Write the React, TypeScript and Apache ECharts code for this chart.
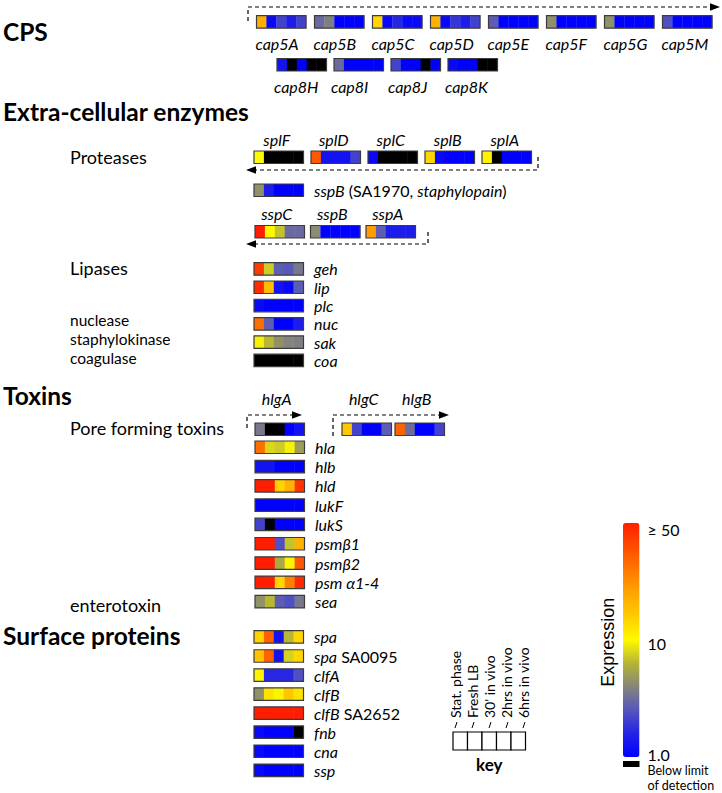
import React, { useEffect, useRef } from 'react';
import * as echarts from 'echarts';

const W = 722;
const H = 793;

// ---------------- data ----------------
const sectionTitles = ['CPS', 'Extra-cellular enzymes', 'Toxins', 'Surface proteins'];
const subTitles = ['Proteases', 'Lipases', 'nuclease', 'staphylokinase', 'coagulase', 'Pore forming toxins', 'enterotoxin'];

const cpsGenes = ['cap5A', 'cap5B', 'cap5C', 'cap5D', 'cap5E', 'cap5F', 'cap5G', 'cap5M'];
const cpsValues = [
  [25, 1.5, 4, 2.5, 4],
  [5.5, 6.3, 1, 1, 1],
  [17, 1.5, 3, 1.5, 1.5],
  [24, 1.5, 3.5, 2.5, 4],
  [5, 1, 1, 1, 1],
  [7, 1, 1, 1, 1],
  [7, 1, 1, 1, 1],
  [4.5, 1, 1, 1, 1],
];
const cap8Genes = ['cap8H', 'cap8I', 'cap8J', 'cap8K'];
const cap8Values = [
  [2, 0, 1, 0, 0],
  [5.5, 1, 1, 1, 1],
  [4, 1, 1, 0, 1],
  [1.5, 1, 1, 0, 0],
];
const splGenes = ['splF', 'splD', 'splC', 'splB', 'splA'];
const splValues = [
  [11, 0, 0, 0, 0],
  [40, 2, 2, 2, 4],
  [1.5, 0, 0, 0, 0],
  [17, 1.5, 1, 1, 1],
  [12, 0, 1, 1, 1],
];
const sspBSingleLabel = '{i|sspB}{r| (SA1970, }{i|staphylopain}{r|)}';
const sspBSingleValues = [7, 2.5, 1, 1, 1];
const sspGenes = ['sspC', 'sspB', 'sspA'];
const sspValues = [
  [50, 11, 8.8, 5.5, 5.5],
  [6.8, 1, 1, 1, 1],
  [28, 5, 2.5, 2.5, 2.5],
];
const enzymeGenes = ['geh', 'lip', 'plc', 'nuc', 'sak', 'coa'];
const enzymeValues = [
  [45, 9, 5, 4.8, 6],
  [48, 22, 2, 1.5, 5],
  [1.5, 1, 1, 1, 1],
  [36, 5, 1, 1, 2.5],
  [10, 8.5, 7, 6.5, 6.3],
  [0, 0, 0, 0, 0],
];
const hlgGenes = ['hlgA', 'hlgC', 'hlgB'];
const hlgValues = [
  [6, 0, 0, 1, 2],
  [20, 4, 1, 1, 5],
  [38, 5.6, 1, 1, 4],
];
const toxinGenes = ['hla', 'hlb', 'hld', 'lukF', 'lukS', 'psmβ1', 'psmβ2', 'psm α1-4', 'sea'];
const toxinValues = [
  [36, 9.3, 9, 10, 7.5],
  [2, 2, 1, 1, 1],
  [50, 50, 18, 24, 46],
  [1, 1, 1, 1, 1],
  [4, 0, 1, 1, 1],
  [50, 50, 4.5, 8.8, 24],
  [50, 50, 8, 12, 40],
  [50, 50, 17, 33, 48],
  [7, 8.5, 5, 4.5, 6],
];
const surfaceGenes = ['{i|spa}', '{i|spa}{r| SA0095}', '{i|clfA}', '{i|clfB}', '{i|clfB}{r| SA2652}', '{i|fnb}', '{i|cna}', '{i|ssp}'];
const surfaceValues = [
  [18, 38, 2, 8.5, 17],
  [21, 38, 2, 9.2, 17],
  [12, 3, 3, 3, 4.5],
  [7, 15, 10.5, 20, 15],
  [50, 50, 50, 50, 50],
  [1.5, 1, 1, 1, 0],
  [1.5, 1, 1, 1, 1],
  [1.5, 1, 1, 1, 1],
];
const keyLabels = ['Stat. phase', 'Fresh LB', "30' in vivo", '2hrs in vivo', '6hrs in vivo'];
const keyTitle = 'key';
const colorbarTicks = [50, 10, 1];
const colorbarTickLabels = ['≥ 50', '10', '1.0'];
const colorbarTitle = 'Expression';
const belowLimitLabel = ['Below limit', 'of detection'];

// ---------------- scale ----------------
const scaleColors = ['#0000ff', '#2323e6', '#5555be', '#85857a', '#b4b437', '#fffa00', '#ffcd00', '#ffa500', '#ff7800', '#ff4b00', '#ff1e00'];
const BELOW_COLOR = '#000000';
function toScale(v: number) {
  if (v <= 0) return 0; // below detection limit (drawn black)
  if (v <= 10) return (0.487 * (v - 1)) / 9;
  return 0.487 + (0.513 * Math.min(v - 10, 40)) / 40;
}

// ---------------- layout ----------------
const CELL_W = 9.9;
const BOX_H = 12.5;
const FONT = 'Lato';
const GENE_SIZE = 16;
const LABEL_X = 314;
const BAR = { x: 623, y: 523, w: 16.5, h: 234 };

type Strip = { x: number; y: number; values: number[] };

export default function App() {
  const ref = useRef<HTMLDivElement>(null);
  useEffect(() => {
    if (!ref.current) return;
    const chart = echarts.init(ref.current, undefined, { renderer: 'svg' });
    const strips: Strip[] = [];
    const g: any[] = [];

    const text = (x: number, y: number, t: string, o: any = {}) =>
      g.push({
        type: 'text',
        x,
        y,
        rotation: o.rotation || 0,
        style: {
          text: t,
          fontFamily: o.family || FONT,
          fontSize: o.size || GENE_SIZE,
          lineHeight: o.lh,
          fontStyle: o.italic ? 'italic' : 'normal',
          fontWeight: o.bold ? 'bold' : 'normal',
          fill: '#000',
          align: o.align || 'left',
          verticalAlign: o.va || 'middle',
          rich: {
            i: { fontFamily: FONT, fontSize: GENE_SIZE, fontStyle: 'italic', fill: '#000' },
            r: { fontFamily: FONT, fontSize: GENE_SIZE, fontStyle: 'normal', fill: '#000' },
          },
        },
      });
    const boxW = CELL_W * 5;
    const dash = (pts: number[][]) =>
      g.push({ type: 'polyline', shape: { points: pts }, style: { stroke: '#000', lineWidth: 1.2, lineDash: [4, 3], fill: null } });
    const head = (tipX: number, y: number, dir: number) =>
      g.push({
        type: 'polygon',
        shape: { points: [[tipX, y], [tipX - dir * 10, y - 3.8], [tipX - dir * 10, y + 3.8]] },
        style: { fill: '#000' },
      });

    // section titles
    const secY = [31, 111, 395, 635];
    sectionTitles.forEach((t, i) => text(3, secY[i], t, { bold: true, size: 24.5 }));
    const subY = [157, 268, 319.5, 338.5, 357.5, 428, 605];
    const subSize = [18, 18, 15.5, 15.5, 15.5, 18, 18];
    subTitles.forEach((t, i) => text(70, subY[i], t, { size: subSize[i], lh: 15 }));

    // CPS
    cpsGenes.forEach((n, i) => {
      const x = 256.5 + i * 58;
      strips.push({ x, y: 15.7, values: cpsValues[i] });
      text(x - 1, 43, n, { italic: true });
    });
    cap8Genes.forEach((n, i) => {
      const x = 277 + i * 57;
      strips.push({ x, y: 58.5, values: cap8Values[i] });
      text(x - 3, 86, n, { italic: true });
    });
    dash([[248, 21], [248, 7], [710, 7]]);
    head(720, 7, 1);

    // proteases
    splGenes.forEach((n, i) => {
      const x = 254 + i * 57;
      strips.push({ x, y: 151, values: splValues[i] });
      text(x + boxW / 2 - 2, 139, n, { italic: true, align: 'center' });
    });
    dash([[538, 157], [538, 170], [256, 170]]);
    head(246, 170, -1);
    strips.push({ x: 254, y: 184, values: sspBSingleValues });
    text(LABEL_X, 190.5, sspBSingleLabel);
    sspGenes.forEach((n, i) => {
      const x = 255 + i * 55.5;
      strips.push({ x, y: 225.5, values: sspValues[i] });
      text(x + boxW / 2 - 3, 213, n, { italic: true, align: 'center' });
    });
    dash([[428, 232], [428, 244], [256, 244]]);
    head(246, 244, -1);

    // lipases etc.
    enzymeGenes.forEach((n, i) => {
      const y = 262.7 + i * 18.3;
      strips.push({ x: 254, y, values: enzymeValues[i] });
      text(LABEL_X, y + BOX_H / 2, n, { italic: true, lh: 16 });
    });

    // toxins
    const hlgX = [255, 342, 395];
    hlgGenes.forEach((n, i) => {
      strips.push({ x: hlgX[i], y: 423, values: hlgValues[i] });
      text(hlgX[i] + boxW / 2 - 3, 398, n, { italic: true, align: 'center' });
    });
    dash([[247, 428], [247, 415], [292, 415]]);
    head(302, 415, 1);
    dash([[333, 436], [333, 415], [439, 415]]);
    head(449, 415, 1);
    toxinGenes.forEach((n, i) => {
      const y = 441 + i * 19.3;
      strips.push({ x: 255, y, values: toxinValues[i] });
      text(LABEL_X + 1, y + BOX_H / 2, n, { italic: true, lh: 17 });
    });

    // surface proteins
    surfaceGenes.forEach((n, i) => {
      const y = 630.7 + i * 19.05;
      strips.push({ x: 254, y, values: surfaceValues[i] });
      text(LABEL_X, y + BOX_H / 2, n, { lh: 17 });
    });

    // key
    const KX = 453, KY = 732, KW = 14.5, KH = 18;
    keyLabels.forEach((t, i) => {
      g.push({ type: 'rect', shape: { x: KX + i * KW, y: KY, width: KW, height: KH }, style: { fill: '#fff', stroke: '#000', lineWidth: 1.2 } });
      const lx = 455 + i * 17;
      text(lx, 718, t, { rotation: Math.PI / 2, size: 14 });
      g.push({ type: 'line', shape: { x1: lx + 2, y1: 722, x2: lx, y2: 728 }, style: { stroke: '#000', lineWidth: 1 } });
    });
    text(KX + (KW * 5) / 2, 764, keyTitle, { bold: true, size: 17, align: 'center' });

    // colour bar annotations
    colorbarTicks.forEach((v, i) => {
      const t = toScale(v);
      const y = BAR.y + BAR.h * (1 - t);
      text(BAR.x + BAR.w + 8, t >= 1 ? y - 2 : t <= 0 ? y + 5 : y, colorbarTickLabels[i], {
        size: 16,
        va: t >= 1 ? 'top' : t <= 0 ? 'bottom' : 'middle',
      });
    });
    text(608, BAR.y + BAR.h * 0.51, colorbarTitle, { rotation: Math.PI / 2, size: 18, family: 'Liberation Sans', align: 'center' });
    g.push({ type: 'rect', shape: { x: BAR.x, y: 761, width: BAR.w, height: 6 }, style: { fill: BELOW_COLOR } });
    text(BAR.x + BAR.w + 8, 770, belowLimitLabel[0], { size: 12.5, lh: 14 });
    text(BAR.x + BAR.w + 8, 785, belowLimitLabel[1], { size: 12.5, lh: 14 });

    const cellData: number[][] = [];
    strips.forEach((s) => s.values.forEach((v, i) => cellData.push([s.x, s.y, i, toScale(v), v])));
    const outlineData = strips.map((s) => [s.x, s.y]);

    chart.setOption({
      animation: false,
      grid: { left: 0, top: 0, right: 0, bottom: 0 },
      xAxis: { type: 'value', min: 0, max: W, show: false },
      yAxis: { type: 'value', min: 0, max: H, inverse: true, show: false },
      visualMap: {
        type: 'continuous',
        min: 0,
        max: 1,
        dimension: 3,
        seriesIndex: 0,
        calculable: false,
        hoverLink: false,
        left: BAR.x,
        top: BAR.y,
        padding: 0,
        itemWidth: BAR.w,
        itemHeight: BAR.h,
        inRange: { color: scaleColors },
      },
      series: [
        {
          type: 'custom',
          coordinateSystem: 'cartesian2d',
          encode: { x: 0, y: 1 },
          data: cellData,
          renderItem: (params: any, api: any) => {
            const x = api.value(0);
            const y = api.value(1);
            const i = api.value(2);
            const raw = api.value(4);
            const p0 = api.coord([x + i * CELL_W, y]);
            const p1 = api.coord([x + (i + 1) * CELL_W, y + BOX_H]);
            return {
              type: 'rect',
              shape: { x: p0[0], y: p0[1], width: p1[0] - p0[0] + 0.3, height: p1[1] - p0[1] },
              style: { fill: raw <= 0 ? BELOW_COLOR : api.visual('color') },
            };
          },
        },
        {
          type: 'custom',
          coordinateSystem: 'cartesian2d',
          encode: { x: 0, y: 1 },
          data: outlineData,
          renderItem: (params: any, api: any) => {
            const p0 = api.coord([api.value(0), api.value(1)]);
            const p1 = api.coord([api.value(0) + CELL_W * 5, api.value(1) + BOX_H]);
            return {
              type: 'rect',
              shape: { x: p0[0], y: p0[1], width: p1[0] - p0[0], height: p1[1] - p0[1] },
              style: { fill: 'none', stroke: '#3c3c3c', lineWidth: 1.2 },
            };
          },
        },
      ],
      graphic: { elements: g },
    });
    return () => chart.dispose();
  }, []);
  return <div ref={ref} style={{ position: 'fixed', left: 0, top: 0, width: W, height: H, background: '#fff' }} />;
}
